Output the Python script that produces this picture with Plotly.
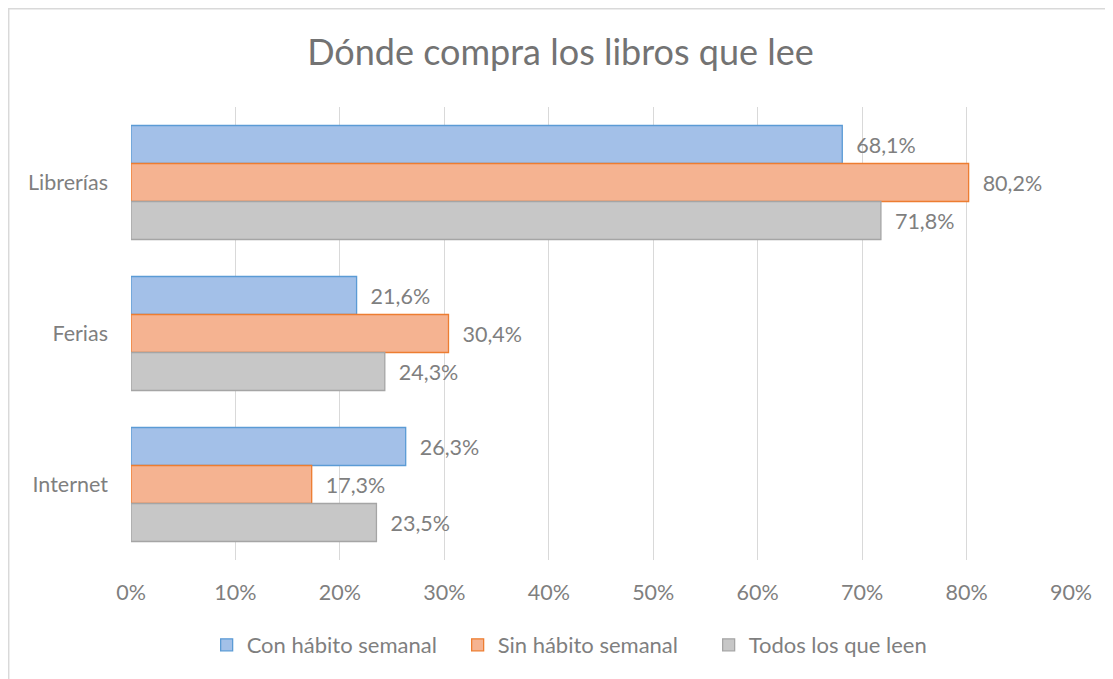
import plotly.graph_objects as go

categories = ["Librerías", "Ferias", "Internet"]
series_names = ["Con hábito semanal", "Sin hábito semanal", "Todos los que leen"]
con_habito = [68.1, 21.6, 26.3]
sin_habito = [80.2, 30.4, 17.3]
todos = [71.8, 24.3, 23.5]
tick_vals = [0, 10, 20, 30, 40, 50, 60, 70, 80, 90]
tick_text = [f"{v}%" for v in tick_vals]

fills = ["#a3c0e8", "#f5b391", "#c7c7c7"]
borders = ["#5b9bd5", "#ed7d31", "#a5a5a5"]
FONT = "Lato"
TXT = "#7f7f7f"
FS = 21.5

fig = go.Figure()
series = [con_habito, sin_habito, todos]
for name, vals, fc, bc in zip(series_names, series, fills, borders):
    fig.add_trace(go.Bar(
        y=categories, x=vals, name=name, orientation="h",
        marker=dict(color=fc, line=dict(color=bc, width=1.3)),
        text=["\u00a0\u00a0" + f"{v:.1f}%".replace(".", ",") for v in vals],
        textposition="outside", cliponaxis=False,
        textfont=dict(family=FONT, size=FS, color=TXT),
    ))

fig.update_layout(
    width=1105, height=671,
    paper_bgcolor="white", plot_bgcolor="white",
    margin=dict(l=123, r=42, t=99, b=119, autoexpand=False),
    barmode="group", bargap=0.245, bargroupgap=0,
    separators=",.",
    title=dict(text="Dónde compra los libros que lee", x=0.5, xanchor="center",
               y=0.9344, yanchor="middle",
               font=dict(family=FONT, size=36, color="#737373")),
    font=dict(family=FONT, color=TXT, size=FS),
    legend=dict(orientation="h", x=0.481, xanchor="center", y=-0.1876, yanchor="middle",
                font=dict(family=FONT, size=22, color=TXT), traceorder="normal",
                itemwidth=30, entrywidth=206, entrywidthmode="pixels"),
    showlegend=True,
)
fig.update_xaxes(range=[0, 90], tickvals=tick_vals, ticktext=tick_text,
                 showgrid=True, gridcolor="#d9d9d9", gridwidth=1,
                 zeroline=False, showline=False, ticks="",
                 ticklabelstandoff=17,
                 tickfont=dict(family=FONT, size=FS, color=TXT))
fig.update_yaxes(autorange="reversed", showgrid=False, showline=False, ticks="",
                 ticklabelstandoff=22,
                 tickfont=dict(family=FONT, size=FS, color=TXT))
fig.add_shape(type="rect", xref="paper", yref="paper",
              x0=-0.1301, x1=1.1, y0=-0.4, y1=1.2168,
              line=dict(color="#d9d9d9", width=1.5), fillcolor="rgba(0,0,0,0)", layer="below")

fig.write_html("out.html")
